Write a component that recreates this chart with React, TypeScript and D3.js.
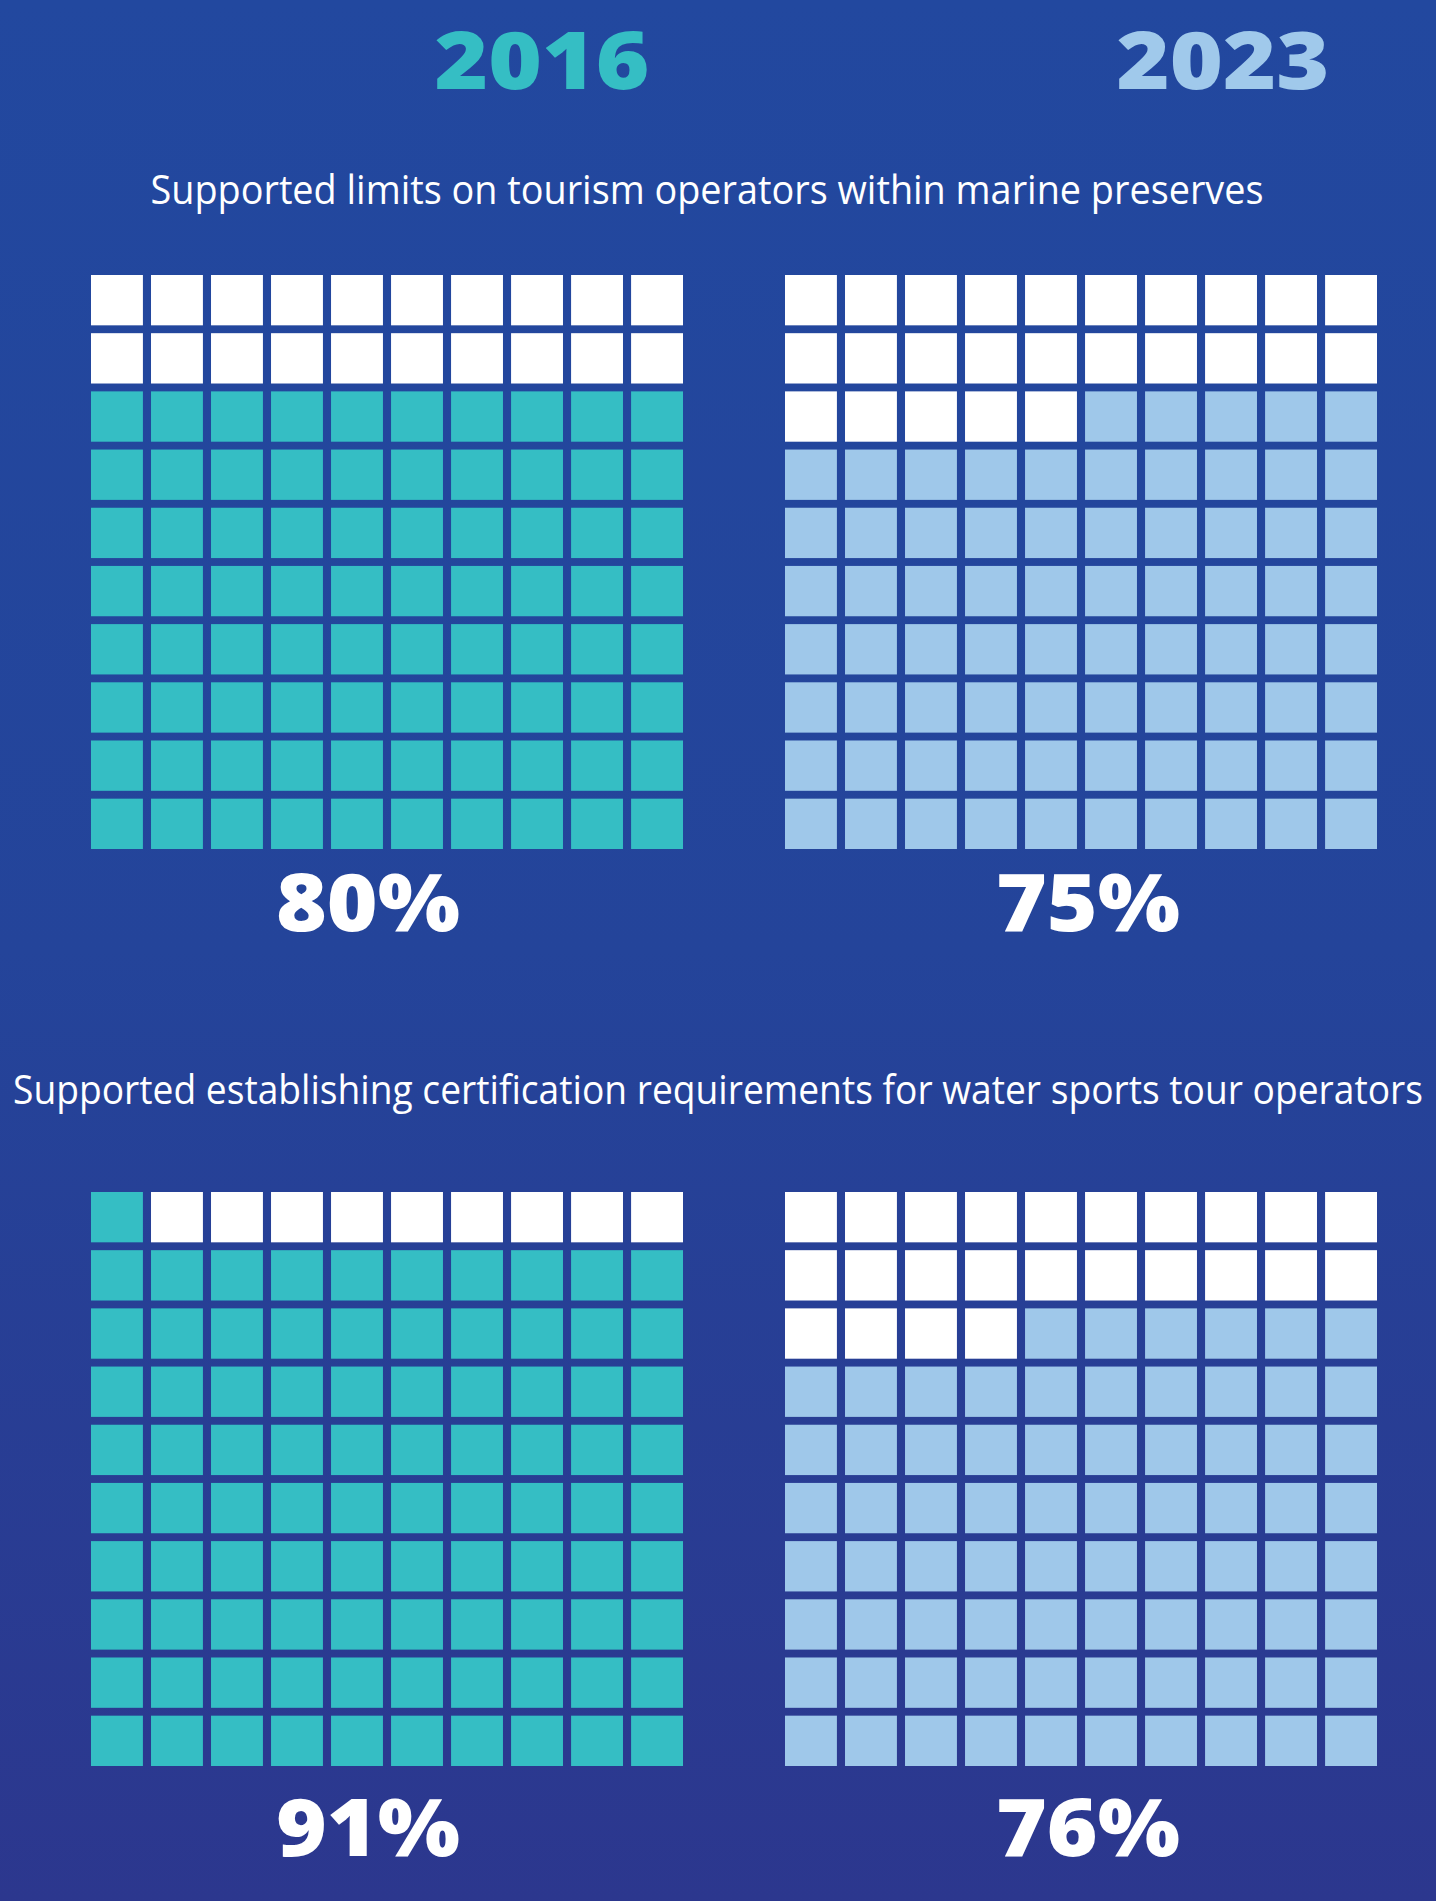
import * as d3 from 'd3';

const WIDTH = 1436;
const HEIGHT = 1901;

// data
const years = ['2016', '2023'];
const questions = [
    'Supported limits on tourism operators within marine preserves',
    'Supported establishing certification requirements for water sports tour operators',
];
const support2016 = [80, 91];
const support2023 = [75, 76];
// which side the unfilled remainder sits on in the partial row
const remainderSide = ['right', 'left'];

const YEAR_COLORS = ['#35bec4', '#a0c9eb'];
const CELL_COLORS = ['#35bec4', '#9fc8ea'];
const EMPTY = '#ffffff';

const GRID_X = [91, 785];
const GRID_Y = [275, 1192];
const GRID_W = 592;
const GRID_H = 574;

const idx = d3.range(10);

const Waffle = ({ x0, y0, value, color, side }: any) => {
    const xScale = d3.scaleBand<number>().domain(idx).range([x0, x0 + GRID_W]).paddingInner(0.135);
    const yScale = d3.scaleBand<number>().domain(idx).range([y0, y0 + GRID_H]).paddingInner(0.135);
    const empty = 100 - value;
    const fullRows = Math.floor(empty / 10);
    const rest = empty % 10;

    const cells = [];
    for (const r of idx) {
        for (const c of idx) {
            let isEmpty = r < fullRows;
            if (r === fullRows && rest > 0) {
                isEmpty = side === 'left' ? c < rest : c >= 10 - rest;
            }
            cells.push(
                <rect
                    key={`${r}-${c}`}
                    x={xScale(c)}
                    y={yScale(r)}
                    width={xScale.bandwidth()}
                    height={yScale.bandwidth()}
                    fill={isEmpty ? EMPTY : color}
                />
            );
        }
    }
    return <g>{cells}</g>;
};

// squeezed title: scaled horizontally so it keeps the condensed look
const Title = ({ x, y, width, size, sx, children }: any) => (
    <g transform={`translate(${x},${y}) scale(${sx},1)`}>
        <text
            x={0}
            y={0}
            textAnchor="middle"
            fontFamily="'Open Sans', sans-serif"
            fontSize={size}
            fill="#ffffff"
            textLength={width / sx}
            lengthAdjust="spacingAndGlyphs"
        >
            {children}
        </text>
    </g>
);

export default function App() {
    const values = [support2016, support2023];
    const labelX = [368, 1088];
    const labelY = [931, 1856];

    return (
        <div>
            <style>{`body{margin:0}`}</style>
            <svg width={WIDTH} height={HEIGHT} style={{ display: 'block' }}>
                <defs>
                    <linearGradient id="bg" x1="0" y1="0" x2="0" y2="1">
                        <stop offset="0%" stopColor="#22489f" />
                        <stop offset="50%" stopColor="#24449a" />
                        <stop offset="100%" stopColor="#2c378e" />
                    </linearGradient>
                </defs>
                <rect x={0} y={0} width={WIDTH} height={HEIGHT} fill="url(#bg)" />

                {/* year headers */}
                {years.map((y, i) => (
                    <text
                        key={y}
                        x={[542, 1223][i]}
                        y={89}
                        textAnchor="middle"
                        fontFamily="'Open Sans', sans-serif"
                        fontWeight={800}
                        fontSize={80}
                        fill={YEAR_COLORS[i]}
                        textLength={[215, 213][i]}
                        lengthAdjust="spacingAndGlyphs"
                    >
                        {y}
                    </text>
                ))}

                {/* question titles */}
                <Title x={707} y={204} width={1113} size={41} sx={0.86}>
                    {questions[0]}
                </Title>
                <Title x={718} y={1104} width={1410} size={41} sx={0.8}>
                    {questions[1]}
                </Title>

                {/* waffles */}
                {questions.map((q, qi) =>
                    years.map((yr, yi) => (
                        <g key={`${qi}-${yi}`}>
                            <Waffle
                                x0={GRID_X[yi]}
                                y0={GRID_Y[qi]}
                                value={values[yi][qi]}
                                color={CELL_COLORS[yi]}
                                side={remainderSide[yi]}
                            />
                            <text
                                x={labelX[yi]}
                                y={labelY[qi]}
                                textAnchor="middle"
                                fontFamily="'Open Sans', sans-serif"
                                fontWeight={800}
                                fontSize={80}
                                fill="#ffffff"
                                textLength={184}
                                lengthAdjust="spacingAndGlyphs"
                            >
                                {values[yi][qi]}%
                            </text>
                        </g>
                    ))
                )}
            </svg>
        </div>
    );
}
